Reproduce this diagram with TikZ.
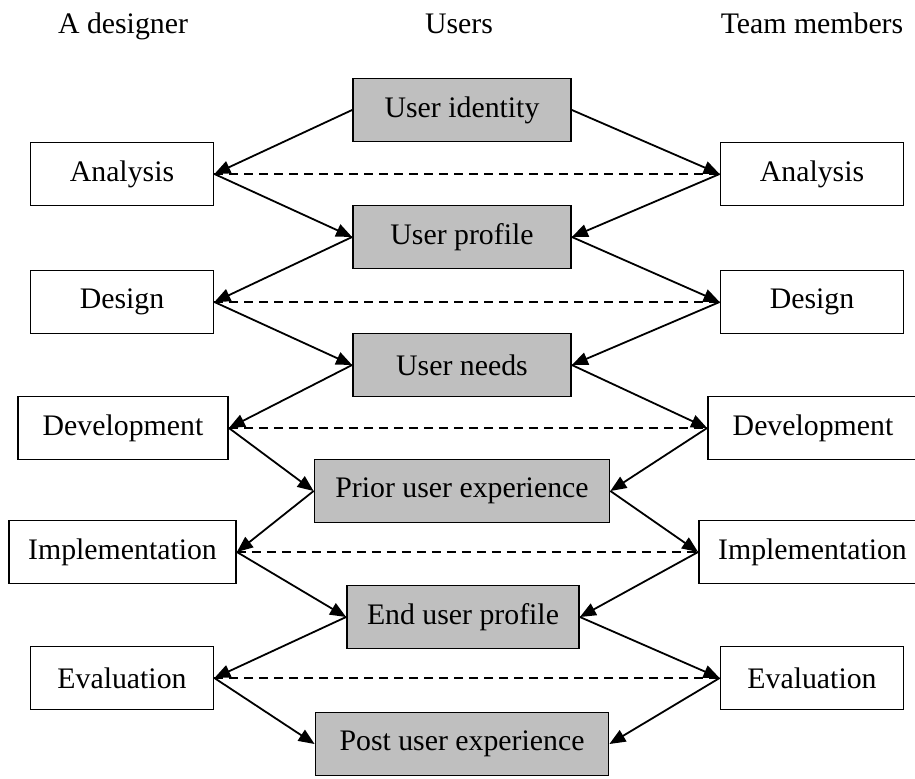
\documentclass[tikz,border=0pt]{standalone}
\usepackage{fontspec}
\setmainfont{Liberation Serif}
\usetikzlibrary{arrows.meta}
\tikzstyle{userbox}  = [rectangle, draw=black, fill=gray!50, line width=0.9pt,
                        minimum height=31.5pt, inner sep=0pt, text centered]
\tikzstyle{stagebox} = [rectangle, draw=black, fill=white, line width=0.9pt,
                        minimum height=31.5pt, inner sep=0pt, text centered]
\tikzstyle{heading}  = [anchor=base]
\tikzstyle{arrow}    = [line width=0.9pt, -{Triangle[length=8pt,width=6.5pt]}]
\tikzstyle{link}     = [line width=0.9pt, dash pattern=on 4.5pt off 3pt]

\begin{document}
\begin{tikzpicture}[x=0.5pt, y=-0.5pt, every node/.style={font=\fontsize{14.9}{18}\selectfont}]
  \clip (0,0) rectangle (915,778);

  % Column headings
  \node (hdes)  [heading] at (123,33) {A designer};
  \node (husr)  [heading] at (459,33) {Users};
  \node (hteam) [heading] at (812,33) {Team members};

  % User information
  \node (ui)  [userbox, minimum width=109pt]   at (462,110) {User identity};
  \node (up)  [userbox, minimum width=109pt]   at (462,237) {User profile};
  \node (un)  [userbox, minimum width=109pt]   at (462,365) {User needs};
  \node (pux) [userbox, minimum width=147.5pt] at (462,491) {Prior user experience};
  \node (eup) [userbox, minimum width=116pt]   at (463,617) {End user profile};
  \node (pue) [userbox, minimum width=146.5pt] at (462,744) {Post user experience};

  % Designer stages
  \node (la)    [stagebox, minimum width=91.5pt]  at (122,174)   {Analysis};
  \node (ld)    [stagebox, minimum width=91.5pt]  at (122,302)   {Design};
  \node (ldev)  [stagebox, minimum width=105pt]   at (123,428)   {Development};
  \node (limp)  [stagebox, minimum width=113.5pt] at (122.5,552) {Implementation};
  \node (leval) [stagebox, minimum width=91.5pt]  at (122,678)   {Evaluation};

  % Team member stages
  \node (ra)    [stagebox, minimum width=91.5pt]  at (812,174)   {Analysis};
  \node (rd)    [stagebox, minimum width=91.5pt]  at (812,302)   {Design};
  \node (rdev)  [stagebox, minimum width=105pt]   at (813,428)   {Development};
  \node (rimp)  [stagebox, minimum width=113.5pt] at (812.5,552) {Implementation};
  \node (reval) [stagebox, minimum width=91.5pt]  at (812,678)   {Evaluation};

  % Designer <-> team members
  \draw[link] (la.east)    -- (ra.west);
  \draw[link] (ld.east)    -- (rd.west);
  \draw[link] (ldev.east)  -- (rdev.west);
  \draw[link] (limp.east)  -- (rimp.west);
  \draw[link] (leval.east) -- (reval.west);

  % User identity -> Analysis
  \draw[arrow] (ui.west) -- (la.east);
  \draw[arrow] (ui.east) -- (ra.west);
  % Analysis -> User profile
  \draw[arrow] (la.east) -- (up.west);
  \draw[arrow] (ra.west) -- (up.east);
  % User profile -> Design
  \draw[arrow] (up.west) -- (ld.east);
  \draw[arrow] (up.east) -- (rd.west);
  % Design -> User needs
  \draw[arrow] (ld.east) -- (un.west);
  \draw[arrow] (rd.west) -- (un.east);
  % User needs -> Development
  \draw[arrow] (un.west) -- (ldev.east);
  \draw[arrow] (un.east) -- (rdev.west);
  % Development -> Prior user experience
  \draw[arrow] (ldev.east) -- (pux.west);
  \draw[arrow] (rdev.west) -- (pux.east);
  % Prior user experience -> Implementation
  \draw[arrow] (pux.west) -- (limp.east);
  \draw[arrow] (pux.east) -- (rimp.west);
  % Implementation -> End user profile
  \draw[arrow] (limp.east) -- (eup.west);
  \draw[arrow] (rimp.west) -- (eup.east);
  % End user profile -> Evaluation
  \draw[arrow] (eup.west) -- (leval.east);
  \draw[arrow] (eup.east) -- (reval.west);
  % Evaluation -> Post user experience
  \draw[arrow] (leval.east) -- (pue.west);
  \draw[arrow] (reval.west) -- (pue.east);

\end{tikzpicture}
\end{document}
